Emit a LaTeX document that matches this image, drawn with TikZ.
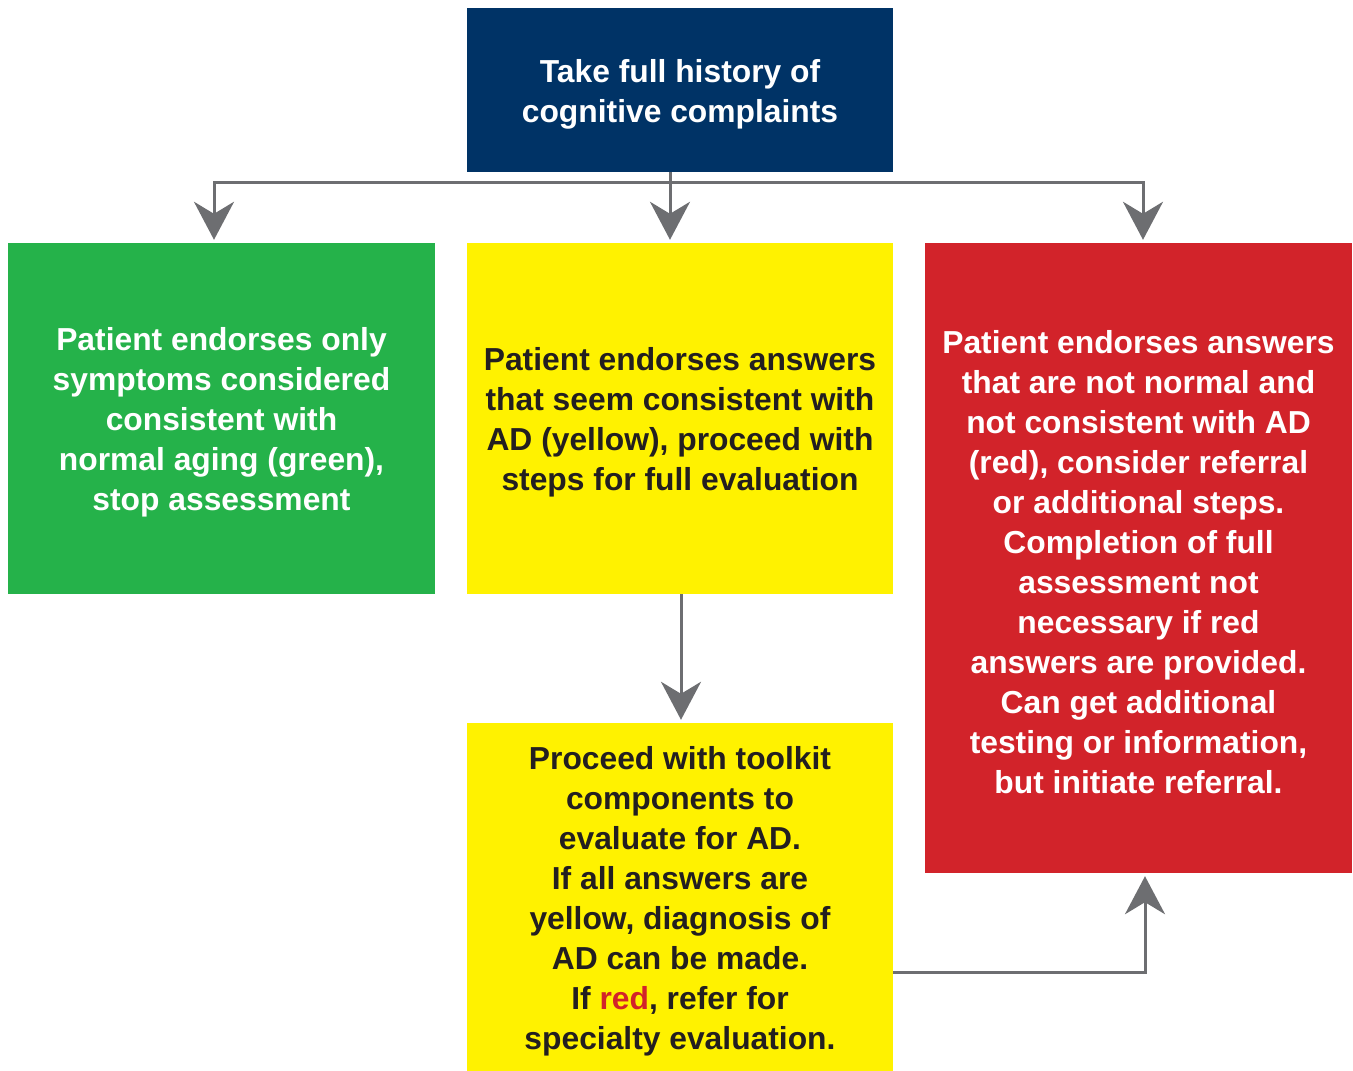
\documentclass[tikz,border=0pt]{standalone}
\usepackage{fontspec}
\setmainfont{Liberation Sans}
\usetikzlibrary{arrows.meta,calc}
\definecolor{navy}{HTML}{003366}
\definecolor{grn}{HTML}{25B24A}
\definecolor{ylw}{HTML}{FFF200}
\definecolor{rd}{HTML}{D2232A}
\definecolor{arrgray}{HTML}{6D6E71}
\definecolor{txt}{HTML}{231F20}
\begin{document}
\begin{tikzpicture}[x=1pt,y=-1pt,
  box/.style={rectangle,inner sep=0pt,minimum width=426pt},
  lbl/.style={inner sep=0pt,align=center,yshift=-4pt,
    font=\fontsize{31.8}{40}\selectfont\bfseries},
  con/.style={draw=arrgray,line width=3pt},
  arr/.style={con,-{Stealth[length=38pt,width=40pt,inset=12pt]},shorten >=3pt}]
\useasboundingbox (0,0) rectangle (1353,1071);
\node[box,fill=navy,minimum height=164pt] (top) at (680,90) {};
\node[lbl,text=white] (topT) at (top.center) {Take full history of\\cognitive complaints};
\node[box,fill=grn,minimum width=427pt,minimum height=351pt] (green) at (221.5,418.5) {};
\node[lbl,text=white] (greenT) at (green.center)
  {Patient endorses only\\symptoms considered\\consistent with\\normal aging (green),\\stop assessment};
\node[box,fill=ylw,minimum height=351pt] (yel1) at (680,418.5) {};
\node[lbl,text=txt] (yel1T) at (yel1.center)
  {Patient endorses answers\\that seem consistent with\\AD (yellow), proceed with\\steps for full evaluation};
\node[box,fill=rd,minimum width=427pt,minimum height=630pt] (red) at (1138.5,558) {};
\node[lbl,text=white] (redT) at (red.center)
  {Patient endorses answers\\that are not normal and\\not consistent with AD\\(red), consider referral\\or additional steps.\\Completion of full\\assessment not\\necessary if red\\answers are provided.\\Can get additional\\testing or information,\\but initiate referral.};
\node[box,fill=ylw,minimum height=348pt] (yel2) at (680,897) {};
\node[lbl,text=txt] (yel2T) at (yel2.center)
  {Proceed with toolkit\\components to\\evaluate for AD.\\If all answers are\\yellow, diagnosis of\\AD can be made.\\If \textcolor{rd}{red}, refer for\\specialty evaluation.};
\coordinate (j) at (670,182);
\draw[con] (top.south -| j) -- (j);
\draw[arr] (j) -| ([xshift=-7.5pt]green.north);
\draw[arr] (j) -| ([xshift=4.5pt]red.north);
\draw[arr] (j) -- (j |- yel1.north);
\draw[arr] ([xshift=1pt]yel1.south) -- ([xshift=1pt]yel2.north);
\draw[arr] ([yshift=-75pt]yel2.east) -| ([xshift=6.5pt]red.south);
\end{tikzpicture}
\end{document}
